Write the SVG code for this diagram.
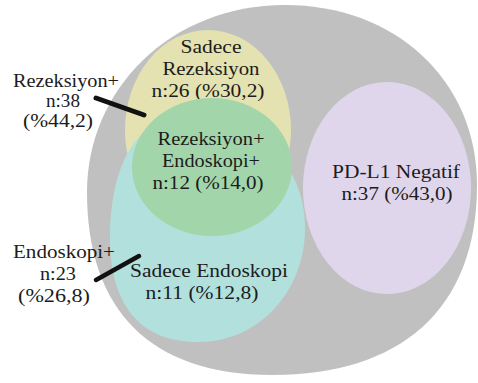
<svg xmlns="http://www.w3.org/2000/svg" width="478" height="383" viewBox="0 0 478 383">
<style>
text{font-family:"Liberation Serif","Times New Roman",serif;font-size:19px;fill:#1c1c1c;text-anchor:middle}
.c{stroke:#111;stroke-linecap:round;fill:none}
</style>
<rect width="478" height="383" fill="#ffffff"/>
<g id="all">
<path d="M285,5 C395,5 477,80 477,185 C477,310 400,375 272,375 C150,375 87,310 87,192 C87,90 170,5 285,5 Z" fill="#c0c0c0"/>
</g>
<g id="rezeksiyon">
<ellipse cx="208" cy="130" rx="83" ry="100" fill="#e4e2b0"/>
<text x="211" y="53" textLength="61" lengthAdjust="spacingAndGlyphs">Sadece</text>
<text x="211" y="75" textLength="97" lengthAdjust="spacingAndGlyphs">Rezeksiyon</text>
<text x="208" y="97" textLength="113" lengthAdjust="spacingAndGlyphs">n:26 (%30,2)</text>
</g>
<g id="endoskopi">
<path d="M190,115 C250,115 305,160 305,228 C305,290 260,342 198,342 C140,342 110,305 110,238 C110,160 140,115 190,115 Z" fill="#b2e1dd"/>
<text x="209" y="277" textLength="158" lengthAdjust="spacingAndGlyphs">Sadece Endoskopi</text>
<text x="202" y="299" textLength="113" lengthAdjust="spacingAndGlyphs">n:11 (%12,8)</text>
</g>
<g id="both">
<ellipse cx="212" cy="167" rx="80" ry="69" fill="#a2d5a9"/>
<text x="211" y="145" textLength="107" lengthAdjust="spacingAndGlyphs">Rezeksiyon+</text>
<text x="211" y="167" textLength="98" lengthAdjust="spacingAndGlyphs">Endoskopi+</text>
<text x="208" y="189" textLength="111" lengthAdjust="spacingAndGlyphs">n:12 (%14,0)</text>
</g>
<g id="negatif">
<ellipse cx="387" cy="188" rx="84" ry="106" fill="#e0d6ec"/>
<text x="396" y="178" textLength="128" lengthAdjust="spacingAndGlyphs">PD-L1 Negatif</text>
<text x="397" y="200" textLength="111" lengthAdjust="spacingAndGlyphs">n:37 (%43,0)</text>
</g>
<g id="label-rezeksiyon">
<text x="66" y="87" textLength="106" lengthAdjust="spacingAndGlyphs">Rezeksiyon+</text>
<text x="63" y="107" textLength="34" lengthAdjust="spacingAndGlyphs">n:38</text>
<text x="58" y="127" textLength="70" lengthAdjust="spacingAndGlyphs">(%44,2)</text>
</g>
<g id="label-endoskopi">
<text x="64" y="258" textLength="102" lengthAdjust="spacingAndGlyphs">Endoskopi+</text>
<text x="58" y="280" textLength="36" lengthAdjust="spacingAndGlyphs">n:23</text>
<text x="54" y="302" textLength="72" lengthAdjust="spacingAndGlyphs">(%26,8)</text>
</g>
<g id="connectors">
<line class="c" x1="96" y1="98" x2="144" y2="115" stroke-width="5"/>
<line class="c" x1="96" y1="280" x2="139" y2="256" stroke-width="4.5"/>
</g>
</svg>
